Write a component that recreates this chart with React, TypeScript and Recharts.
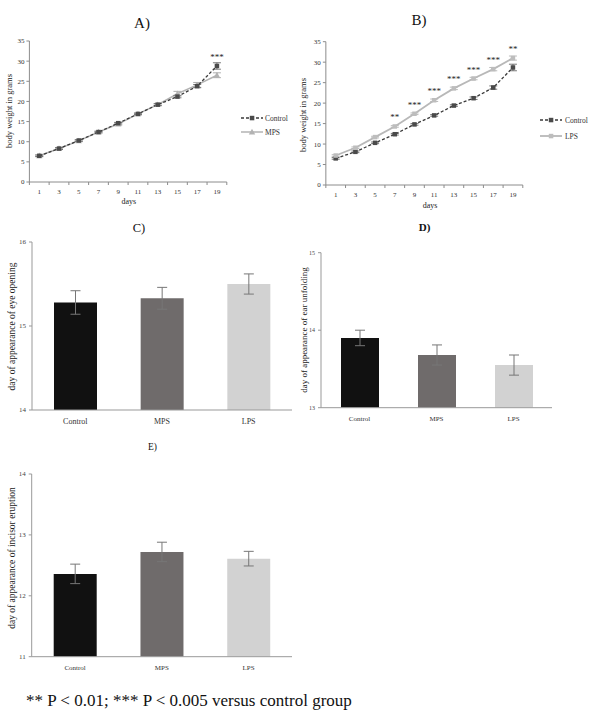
import React from "react";
import { Bar, BarChart, Cell, ErrorBar, LabelList, Line, LineChart, XAxis, YAxis } from "recharts";

const SERIF = '"Liberation Serif", "Times New Roman", serif';

// body weight (panels A and B)
const days = [1, 3, 5, 7, 9, 11, 13, 15, 17, 19];
const dayTicks = [0, 1, 2, 3, 4, 5, 6, 7, 8, 9, 10, 11, 12, 13, 14, 15, 16, 17, 18, 19, 20];
const weightTicks = [0, 5, 10, 15, 20, 25, 30, 35];

const controlWeightA = [6.5, 8.3, 10.3, 12.4, 14.6, 16.9, 19.2, 21.2, 23.8, 28.8];
const controlErrA = [0.2, 0.2, 0.2, 0.2, 0.2, 0.2, 0.2, 0.3, 0.4, 0.8];
const mpsWeight = [6.5, 8.3, 10.2, 12.4, 14.4, 16.9, 19.2, 21.9, 24.1, 26.5];
const mpsErr = [0.2, 0.2, 0.2, 0.2, 0.3, 0.2, 0.3, 0.6, 0.6, 0.6];
const starsA = ["", "", "", "", "", "", "", "", "", "***"];

const controlWeightB = [6.5, 8.1, 10.3, 12.4, 14.8, 17.0, 19.4, 21.2, 23.8, 28.7];
const controlErrB = [0.2, 0.2, 0.2, 0.2, 0.2, 0.2, 0.2, 0.3, 0.4, 0.8];
const lpsWeight = [7.2, 9.1, 11.7, 14.3, 17.4, 20.7, 23.6, 26.0, 28.3, 31.0];
const lpsErr = [0.2, 0.2, 0.2, 0.2, 0.2, 0.3, 0.3, 0.3, 0.4, 0.5];
const starsB = ["", "", "", "**", "***", "***", "***", "***", "***", "**"];

// developmental milestones (panels C, D, E)
const groups = ["Control", "MPS", "LPS"];
const barColors = ["#111111", "#6f6b6b", "#d2d2d2"];
const eyeOpening = [15.28, 15.33, 15.5];
const eyeOpeningErr = [0.14, 0.13, 0.12];
const earUnfolding = [13.9, 13.68, 13.55];
const earUnfoldingErr = [0.1, 0.13, 0.13];
const incisorEruption = [12.36, 12.72, 12.61];
const incisorEruptionErr = [0.16, 0.16, 0.12];

const rowsA = days.map((d, i) => ({
  day: d,
  control: controlWeightA[i],
  controlErr: controlErrA[i],
  mps: mpsWeight[i],
  mpsErr: mpsErr[i],
  stars: starsA[i],
}));

const rowsB = days.map((d, i) => ({
  day: d,
  control: controlWeightB[i],
  controlErr: controlErrB[i],
  lps: lpsWeight[i],
  lpsErr: lpsErr[i],
  stars: starsB[i],
}));

const barRows = (values: number[], errs: number[]) =>
  groups.map((g, i) => ({ group: g, value: values[i], err: errs[i] }));

const AXIS = "#8c8c8c";

function DayTick(props: any) {
  const { x, y, payload } = props;
  const v = payload.value;
  if (v % 2 === 0) {
    return <line x1={x} x2={x} y1={y} y2={y + 3} stroke={AXIS} strokeWidth={1} />;
  }
  return (
    <text x={x} y={y + 12} textAnchor="middle" fontSize={7} fill="#333" fontFamily={SERIF}>
      {v}
    </text>
  );
}

const squareDot = (fill: string, size: number) => (p: any) => (
  <rect key={`sq-${p.index}`} x={p.cx - size / 2} y={p.cy - size / 2} width={size} height={size} fill={fill} />
);

const triangleDot = (fill: string) => (p: any) => (
  <polygon
    key={`tr-${p.index}`}
    points={`${p.cx},${p.cy - 3.2} ${p.cx - 3.2},${p.cy + 2.4} ${p.cx + 3.2},${p.cy + 2.4}`}
    fill={fill}
  />
);

function WeightAxes() {
  return null;
}

function MilestoneChart(props: {
  left: number;
  top: number;
  width: number;
  height: number;
  margin: { top: number; right: number; bottom: number; left: number };
  yWidth: number;
  domain: [number, number];
  ticks: number[];
  values: number[];
  errs: number[];
  barSize: number;
  tickFont: number;
  xFont: number;
}) {
  const p = props;
  return (
    <div style={{ position: "absolute", left: p.left, top: p.top }}>
      <BarChart width={p.width} height={p.height} data={barRows(p.values, p.errs)} margin={p.margin}>
        <XAxis
          dataKey="group"
          height={20}
          tickLine={false}
          axisLine={{ stroke: "#999" }}
          tick={{ fontSize: p.xFont, fill: "#333", fontFamily: SERIF }}
        />
        <YAxis
          width={p.yWidth}
          domain={p.domain}
          ticks={p.ticks}
          interval={0}
          tickSize={3}
          tickMargin={3}
          axisLine={{ stroke: "#999" }}
          tickLine={{ stroke: "#999" }}
          tick={{ fontSize: p.tickFont, fill: "#444", fontFamily: SERIF }}
          allowDataOverflow
        />
        <Bar dataKey="value" barSize={p.barSize} isAnimationActive={false}>
          {groups.map((g, i) => (
            <Cell key={g} fill={barColors[i]} />
          ))}
          <ErrorBar dataKey="err" width={5} stroke="#777" strokeWidth={1} />
        </Bar>
      </BarChart>
    </div>
  );
}

export default function App() {
  return (
    <div style={{ position: "absolute", left: 0, top: 0, width: 600, height: 724, background: "#fff" }}>
      {/* A) */}
      <div style={{ position: "absolute", left: 0, top: 0 }}>
        <LineChart width={300} height={215} data={rowsA} margin={{ top: 41, right: 73.2, bottom: 8, left: 0 }}>
          <XAxis
            dataKey="day"
            type="number"
            domain={[0, 20]}
            ticks={dayTicks}
            interval={0}
            height={25}
            tickSize={0}
            tickMargin={0}
            tickLine={false}
            axisLine={{ stroke: AXIS }}
            tick={<DayTick />}
          />
          <YAxis
            width={29.4}
            domain={[0, 35]}
            ticks={weightTicks}
            interval={0}
            tickSize={3}
            tickMargin={2}
            axisLine={{ stroke: AXIS }}
            tickLine={{ stroke: AXIS }}
            tick={{ fontSize: 7, fill: "#333", fontFamily: SERIF }}
          />
          <Line
            dataKey="mps"
            stroke="#b3b3b3"
            strokeWidth={1.5}
            dot={triangleDot("#b3b3b3")}
            isAnimationActive={false}
          >
            <ErrorBar dataKey="mpsErr" width={4} stroke="#999" strokeWidth={0.8} />
          </Line>
          <Line
            dataKey="control"
            stroke="#3a3a3a"
            strokeWidth={1.3}
            strokeDasharray="3 2"
            dot={squareDot("#4a4a4a", 4.5)}
            isAnimationActive={false}
          >
            <ErrorBar dataKey="controlErr" width={4} stroke="#555" strokeWidth={0.8} />
            <LabelList dataKey="stars" position="top" offset={6} fontSize={9} fill="#222" fontFamily={SERIF} />
          </Line>
        </LineChart>
      </div>

      {/* B) */}
      <div style={{ position: "absolute", left: 295, top: 0 }}>
        <LineChart width={305} height={215} data={rowsB} margin={{ top: 41.7, right: 77.2, bottom: 5, left: 0 }}>
          <XAxis
            dataKey="day"
            type="number"
            domain={[0, 20]}
            ticks={dayTicks}
            interval={0}
            height={25}
            tickSize={0}
            tickMargin={0}
            tickLine={false}
            axisLine={{ stroke: AXIS }}
            tick={<DayTick />}
          />
          <YAxis
            width={30.85}
            domain={[0, 35]}
            ticks={weightTicks}
            interval={0}
            tickSize={3}
            tickMargin={2}
            axisLine={{ stroke: AXIS }}
            tickLine={{ stroke: AXIS }}
            tick={{ fontSize: 7, fill: "#333", fontFamily: SERIF }}
          />
          <Line
            dataKey="control"
            stroke="#3a3a3a"
            strokeWidth={1.3}
            strokeDasharray="3 2"
            dot={squareDot("#4a4a4a", 4.5)}
            isAnimationActive={false}
          >
            <ErrorBar dataKey="controlErr" width={4} stroke="#555" strokeWidth={0.8} />
          </Line>
          <Line
            dataKey="lps"
            stroke="#b8b8b8"
            strokeWidth={1.8}
            dot={squareDot("#bdbdbd", 4.5)}
            isAnimationActive={false}
          >
            <ErrorBar dataKey="lpsErr" width={4} stroke="#aaa" strokeWidth={0.8} />
            <LabelList dataKey="stars" position="top" offset={6} fontSize={9} fill="#222" fontFamily={SERIF} />
          </Line>
        </LineChart>
      </div>

      {/* C) */}
      <MilestoneChart
        left={0}
        top={230}
        width={300}
        height={200}
        margin={{ top: 12, right: 8, bottom: 0, left: 0 }}
        yWidth={32}
        domain={[14, 16]}
        ticks={[14, 15, 16]}
        values={eyeOpening}
        errs={eyeOpeningErr}
        barSize={43}
        tickFont={7}
        xFont={8}
      />

      {/* D) */}
      <MilestoneChart
        left={300}
        top={230}
        width={300}
        height={200}
        margin={{ top: 22.7, right: 48, bottom: 2.3, left: 0 }}
        yWidth={21}
        domain={[13, 15]}
        ticks={[13, 14, 15]}
        values={earUnfolding}
        errs={earUnfoldingErr}
        barSize={38}
        tickFont={6}
        xFont={7}
      />

      {/* E) */}
      <MilestoneChart
        left={0}
        top={460}
        width={300}
        height={220}
        margin={{ top: 14, right: 8, bottom: 3.3, left: 0 }}
        yWidth={31.7}
        domain={[11, 14]}
        ticks={[11, 12, 13, 14]}
        values={incisorEruption}
        errs={incisorEruptionErr}
        barSize={43}
        tickFont={7}
        xFont={7}
      />

      <svg
        width={600}
        height={724}
        style={{ position: "absolute", left: 0, top: 0, pointerEvents: "none" }}
        fontFamily={SERIF}
      >
        {/* titles */}
        <text x={142} y={28.3} fontSize={15} textAnchor="middle" fill="#111">A)</text>
        <text x={419} y={25} fontSize={15} textAnchor="middle" fill="#111">B)</text>
        <text x={139} y={231.7} fontSize={12.5} textAnchor="middle" fill="#111">C)</text>
        <text x={424.5} y={230.7} fontSize={11} fontWeight="bold" textAnchor="middle" fill="#111">D)</text>
        <text x={152.5} y={450} fontSize={9.5} textAnchor="middle" fill="#111">E)</text>

        {/* axis titles */}
        <text x={128.8} y={204} fontSize={8} textAnchor="middle" fill="#222">days</text>
        <text x={430} y={208} fontSize={8} textAnchor="middle" fill="#222">days</text>
        <text
          x={8.5}
          y={111}
          fontSize={8.5}
          textAnchor="middle"
          dominantBaseline="central"
          fill="#222"
          transform="rotate(-90 8.5 111)"
        >
          body weight in grams
        </text>
        <text
          x={303.3}
          y={115}
          fontSize={8.5}
          textAnchor="middle"
          dominantBaseline="central"
          fill="#222"
          transform="rotate(-90 303.3 115)"
        >
          body weight in grams
        </text>
        <text
          x={11.7}
          y={326.5}
          fontSize={9.5}
          textAnchor="middle"
          dominantBaseline="central"
          fill="#222"
          transform="rotate(-90 11.7 326.5)"
        >
          day of appearance of eye opening
        </text>
        <text
          x={304}
          y={330}
          fontSize={9}
          textAnchor="middle"
          dominantBaseline="central"
          fill="#222"
          transform="rotate(-90 304 330)"
        >
          day of appearance of ear unfolding
        </text>
        <text
          x={11.7}
          y={558}
          fontSize={9.5}
          textAnchor="middle"
          dominantBaseline="central"
          fill="#222"
          transform="rotate(-90 11.7 558)"
        >
          day of appearance of incisor eruption
        </text>

        {/* legend A */}
        <line x1={241} x2={263} y1={118} y2={118} stroke="#3a3a3a" strokeWidth={1.3} strokeDasharray="3 2" />
        <rect x={249.8} y={115.8} width={4.5} height={4.5} fill="#4a4a4a" />
        <text x={265} y={120.5} fontSize={7.5} fill="#333">Control</text>
        <line x1={241} x2={263} y1={132} y2={132} stroke="#b3b3b3" strokeWidth={1.5} />
        <polygon points="252,128.8 248.8,134.4 255.2,134.4" fill="#b3b3b3" />
        <text x={265} y={134.5} fontSize={7.5} fill="#333">MPS</text>

        {/* legend B */}
        <line x1={540} x2={562} y1={120} y2={120} stroke="#3a3a3a" strokeWidth={1.3} strokeDasharray="3 2" />
        <rect x={548.8} y={117.8} width={4.5} height={4.5} fill="#4a4a4a" />
        <text x={565} y={122.5} fontSize={7.5} fill="#333">Control</text>
        <line x1={540} x2={562} y1={136} y2={136} stroke="#b8b8b8" strokeWidth={1.8} />
        <rect x={548.8} y={133.8} width={4.5} height={4.5} fill="#bdbdbd" />
        <text x={565} y={138.5} fontSize={7.5} fill="#333">LPS</text>

        {/* footnote */}
        <text x={26} y={706} fontSize={17} fill="#111">
          ** P &lt; 0.01; *** P &lt; 0.005 versus control group
        </text>
      </svg>
    </div>
  );
}
